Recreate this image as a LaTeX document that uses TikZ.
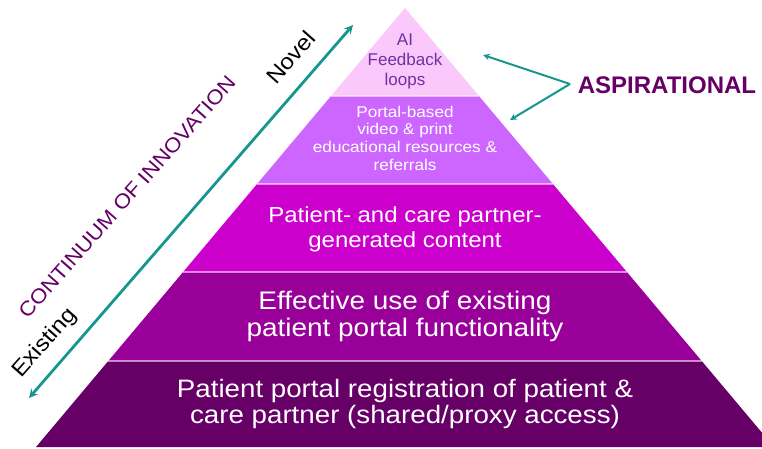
\documentclass[tikz,border=0pt]{standalone}
\usepackage{fontspec}
\setmainfont{Liberation Sans}
\newfontfamily\tierfont[FakeStretch=1.1]{Liberation Sans}
\usetikzlibrary{arrows, positioning}

\definecolor{tierA}{HTML}{FAC8FA}
\definecolor{tierB}{HTML}{CC66FF}
\definecolor{tierC}{HTML}{CC00CC}
\definecolor{tierD}{HTML}{990099}
\definecolor{tierE}{HTML}{660066}
\definecolor{plum}{HTML}{660066}
\definecolor{lilac}{HTML}{7030A0}
\definecolor{tealline}{HTML}{15978F}

\tikzset{
    >=stealth, % sharp arrow heads
    x=1pt, y=-1pt, % work in pixels, y pointing down
    tier text/.style={text=white, align=center}, % labels inside the pyramid
    pointer/.style={tealline, line width=2pt, ->}, % teal arrows
    axis text/.style={rotate=48.5, font=\tierfont\fontsize{22}{24}\selectfont}, % slanted labels
}

\begin{document}
\begin{tikzpicture}
    \useasboundingbox (0,0) rectangle (762,449);
    \clip (0,0) rectangle (762,449);

    % the five tiers, apex at (405,8), side slope 0.8405
    \foreach \ytop/\ybot/\col in {8/96/tierA, 96/184/tierB, 184/272/tierC, 272/361/tierD, 361/447/tierE}{
        \pgfmathsetmacro\wt{0.8405*(\ytop-8)}
        \pgfmathsetmacro\wb{0.8405*(\ybot-8)}
        \fill[\col] (405-\wt,\ytop) -- (405+\wt,\ytop) -- (405+\wb,\ybot) -- (405-\wb,\ybot) -- cycle;
    }
    % thin light seams between tiers
    \foreach \y in {96,184,272,361}{
        \pgfmathsetmacro\w{0.8405*(\y-8)}
        \draw[white, opacity=0.55, line width=1.5pt] (405-\w,\y) -- (405+\w,\y);
    }

    \node[text=lilac, align=center, font=\fontsize{17}{20}\selectfont] (ai) at (405,61) {AI\\Feedback\\loops};
    \node[tier text, font=\tierfont\fontsize{15.6}{17.7}\selectfont] (portal) at (405,138) {Portal-based\\video \& print\\educational resources \&\\referrals};
    \node[tier text, font=\tierfont\fontsize{21.8}{25}\selectfont] (content) at (405,229) {Patient- and care partner-\\generated content};
    \node[tier text, font=\tierfont\fontsize{25.4}{27}\selectfont] (existing) at (405,316) {Effective use of existing\\patient portal functionality};
    \node[tier text, font=\tierfont\fontsize{25.2}{26.5}\selectfont] (register) at (405,404) {Patient portal registration of patient \&\\care partner (shared/proxy access)};

    % continuum of innovation
    \coordinate (low) at (29,398);
    \coordinate (high) at (353,25);
    \draw[tealline, line width=2.8pt, <->] (low) -- (high);
    \node[axis text, text=plum, font=\tierfont\fontsize{20.3}{24}\selectfont] (continuum) at (127,197) {CONTINUUM OF INNOVATION};
    \node[axis text] (novel) at (291,57) {Novel};
    \node[axis text] (old) at (45,343) {Existing};

    % aspirational tiers
    \node[text=plum, font=\fontsize{24}{28}\bfseries] (asp) at (667,85) {ASPIRATIONAL};
    \coordinate (fork) at (570,84);
    \coordinate (toai) at (483,55);
    \coordinate (toportal) at (510,120);
    \draw[pointer] (fork) -- (toai);
    \draw[pointer] (fork) -- (toportal);
\end{tikzpicture}
\end{document}
